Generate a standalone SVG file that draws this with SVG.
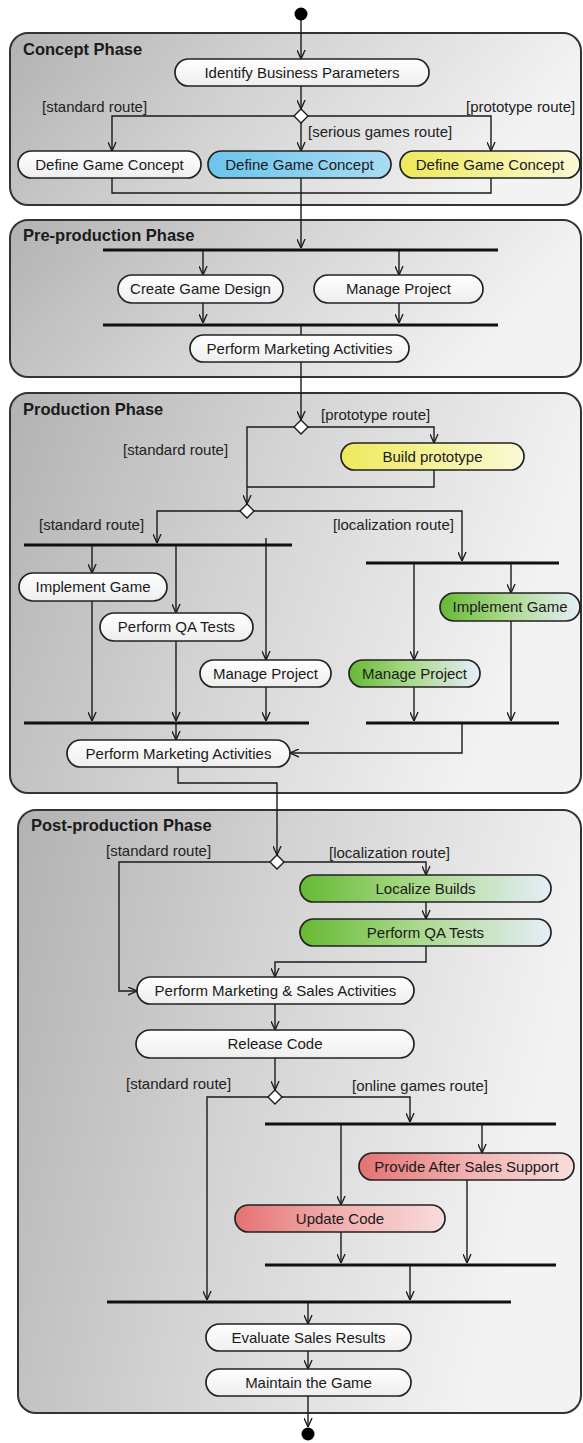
<svg xmlns="http://www.w3.org/2000/svg" width="583" height="1443" viewBox="0 0 583 1443">
  <defs>
    <linearGradient id="gPhase" x1="0" y1="0" x2="1" y2="0.25">
      <stop offset="0" stop-color="#b2b2b2"/>
      <stop offset="0.5" stop-color="#d5d5d5"/>
      <stop offset="1" stop-color="#f3f3f3"/>
    </linearGradient>
    <linearGradient id="gWhite" x1="0" y1="0" x2="0" y2="1">
      <stop offset="0" stop-color="#ffffff"/>
      <stop offset="1" stop-color="#eeeeee"/>
    </linearGradient>
    <linearGradient id="gBlue" x1="0" y1="0" x2="1" y2="0">
      <stop offset="0" stop-color="#6cc4ec"/>
      <stop offset="1" stop-color="#a8dcf3"/>
    </linearGradient>
    <linearGradient id="gYellow" x1="0" y1="0" x2="1" y2="0">
      <stop offset="0" stop-color="#eee95a"/>
      <stop offset="1" stop-color="#fbfad6"/>
    </linearGradient>
    <linearGradient id="gGreen" x1="0" y1="0" x2="1" y2="0">
      <stop offset="0" stop-color="#66b934"/>
      <stop offset="0.45" stop-color="#a8d888"/>
      <stop offset="1" stop-color="#e6eef8"/>
    </linearGradient>
    <linearGradient id="gRed" x1="0" y1="0" x2="1" y2="0">
      <stop offset="0" stop-color="#e47272"/>
      <stop offset="0.5" stop-color="#f2b0b0"/>
      <stop offset="1" stop-color="#f8dcdc"/>
    </linearGradient>
    <marker id="ah" viewBox="0 0 10 10" refX="10" refY="5" markerWidth="9" markerHeight="9" markerUnits="userSpaceOnUse" orient="auto">
      <path d="M0,0.5 L10,5 L0,9.5" fill="none" stroke="#1a1a1a" stroke-width="1.5"/>
    </marker>
    <style>
      .phase { fill: url(#gPhase); stroke: #333; stroke-width: 2; }
      .node { stroke: #222; stroke-width: 1.7; }
      .w { fill: url(#gWhite); }
      .b { fill: url(#gBlue); }
      .y { fill: url(#gYellow); }
      .g { fill: url(#gGreen); }
      .r { fill: url(#gRed); }
      text { font-family: "Liberation Sans", Arial, sans-serif; fill: #1a1a1a; }
      .lbl { font-size: 15px; text-anchor: middle; }
      .guard { font-size: 15px; fill: #222; }
      .title { font-size: 16.5px; font-weight: bold; }
      .c { fill: none; stroke: #1a1a1a; stroke-width: 1.4; }
      .a { marker-end: url(#ah); }
      .bar { stroke: #111; stroke-width: 3; }
      .dia { fill: #ffffff; stroke: #1a1a1a; stroke-width: 1.4; }
      .dot { fill: #000; }
    </style>
  </defs>

  <!-- phase partitions -->
  <g id="phases">
    <g id="phase-concept">
      <rect class="phase" x="10" y="33" width="571" height="172" rx="18"/>
      <text class="title" x="23" y="55">Concept Phase</text>
    </g>
    <g id="phase-preproduction">
      <rect class="phase" x="10" y="220" width="571" height="157" rx="18"/>
      <text class="title" x="23" y="241">Pre-production Phase</text>
    </g>
    <g id="phase-production">
      <rect class="phase" x="10" y="393" width="571" height="400" rx="18"/>
      <text class="title" x="23" y="415">Production Phase</text>
    </g>
    <g id="phase-postproduction">
      <rect class="phase" x="18" y="810" width="563" height="603" rx="18"/>
      <text class="title" x="31" y="831">Post-production Phase</text>
    </g>
  </g>

  <!-- connectors, bars, decisions and guards -->
  <g id="connectors">
    <!-- concept phase -->
    <line class="c a" x1="301" y1="20" x2="301" y2="59"/>
    <line class="c a" x1="301" y1="86" x2="301" y2="109"/>
    <polyline class="c a" points="294,116 112,116 112,151"/>
    <polyline class="c a" points="308,116 491,116 491,151"/>
    <line class="c a" x1="301" y1="123" x2="301" y2="151"/>
    <polyline class="c" points="112,178 112,193 491,193 491,178"/>
    <line class="c a" x1="301" y1="178" x2="301" y2="248"/>
    <polygon class="dia" points="301,109 308,116 301,123 294,116"/>
    <text class="guard" x="42" y="112">[standard route]</text>
    <text class="guard" x="466" y="112">[prototype route]</text>
    <text class="guard" x="308" y="137">[serious games route]</text>

    <!-- pre-production phase -->
    <line class="bar" x1="103" y1="250" x2="498" y2="250"/>
    <line class="c a" x1="203" y1="251" x2="203" y2="275"/>
    <line class="c a" x1="399" y1="251" x2="399" y2="275"/>
    <line class="c a" x1="203" y1="303" x2="203" y2="323"/>
    <line class="c a" x1="399" y1="303" x2="399" y2="323"/>
    <line class="bar" x1="103" y1="325" x2="498" y2="325"/>
    <line class="c" x1="301" y1="326" x2="301" y2="335"/>
    <line class="c a" x1="301" y1="362" x2="301" y2="420"/>

    <!-- production phase -->
    <polyline class="c" points="294,427 247,427 247,487"/>
    <polyline class="c a" points="308,427 434,427 434,443"/>
    <polyline class="c" points="434,470 434,487 247,487"/>
    <line class="c a" x1="247" y1="487" x2="247" y2="504"/>
    <polygon class="dia" points="301,420 308,427 301,434 294,427"/>
    <text class="guard" x="321" y="420">[prototype route]</text>
    <text class="guard" x="123" y="455">[standard route]</text>

    <polyline class="c a" points="240,511 157,511 157,543"/>
    <polyline class="c a" points="254,511 462,511 462,561"/>
    <polygon class="dia" points="247,504 254,511 247,518 240,511"/>
    <text class="guard" x="39" y="530">[standard route]</text>
    <text class="guard" x="333" y="530">[localization route]</text>

    <line class="bar" x1="24" y1="545" x2="292" y2="545"/>
    <line class="bar" x1="366" y1="563" x2="559" y2="563"/>
    <line class="c a" x1="92" y1="546" x2="92" y2="573"/>
    <line class="c a" x1="176" y1="546" x2="176" y2="613"/>
    <line class="c a" x1="266" y1="538" x2="266" y2="660"/>
    <line class="c a" x1="414" y1="564" x2="414" y2="660"/>
    <line class="c a" x1="511" y1="564" x2="511" y2="593"/>

    <line class="c a" x1="92" y1="601" x2="92" y2="721"/>
    <line class="c a" x1="176" y1="641" x2="176" y2="721"/>
    <line class="c a" x1="266" y1="687" x2="266" y2="721"/>
    <line class="c a" x1="414" y1="687" x2="414" y2="721"/>
    <line class="c a" x1="511" y1="621" x2="511" y2="721"/>
    <line class="bar" x1="24" y1="723" x2="309" y2="723"/>
    <line class="bar" x1="366" y1="723" x2="559" y2="723"/>
    <line class="c a" x1="176" y1="724" x2="176" y2="740"/>
    <polyline class="c a" points="462,724 462,753 290,753"/>
    <polyline class="c a" points="178,767 178,783 277,783 277,855"/>

    <!-- post-production phase -->
    <polyline class="c a" points="270,862 119,862 119,991 137,991"/>
    <polyline class="c a" points="284,862 426,862 426,875"/>
    <polygon class="dia" points="277,855 284,862 277,869 270,862"/>
    <text class="guard" x="106" y="856">[standard route]</text>
    <text class="guard" x="329" y="858">[localization route]</text>
    <line class="c a" x1="426" y1="902" x2="426" y2="919"/>
    <polyline class="c a" points="426,946 426,962 275,962 275,977"/>
    <line class="c a" x1="275" y1="1004" x2="275" y2="1030"/>
    <line class="c a" x1="275" y1="1058" x2="275" y2="1090"/>

    <polyline class="c a" points="268,1097 207,1097 207,1300"/>
    <polyline class="c a" points="282,1097 410,1097 410,1122"/>
    <polygon class="dia" points="275,1090 282,1097 275,1104 268,1097"/>
    <text class="guard" x="126" y="1089">[standard route]</text>
    <text class="guard" x="352" y="1091">[online games route]</text>

    <line class="bar" x1="265" y1="1124" x2="556" y2="1124"/>
    <line class="c a" x1="341" y1="1125" x2="341" y2="1205"/>
    <line class="c a" x1="482" y1="1125" x2="482" y2="1153"/>
    <line class="c a" x1="341" y1="1232" x2="341" y2="1263"/>
    <line class="c a" x1="467" y1="1180" x2="467" y2="1263"/>
    <line class="bar" x1="265" y1="1265" x2="556" y2="1265"/>
    <line class="c a" x1="410" y1="1266" x2="410" y2="1300"/>
    <line class="bar" x1="107" y1="1302" x2="511" y2="1302"/>
    <line class="c a" x1="308" y1="1303" x2="308" y2="1324"/>
    <line class="c a" x1="308" y1="1351" x2="308" y2="1369"/>
    <line class="c a" x1="308" y1="1396" x2="308" y2="1427"/>
  </g>

  <!-- start and end -->
  <g id="start"><circle class="dot" cx="301" cy="14" r="6.5"/></g>
  <g id="end"><circle class="dot" cx="308" cy="1434" r="6.5"/></g>

  <!-- activities -->
  <g id="identify-business-parameters">
    <rect class="node w" x="175" y="59" width="254" height="27" rx="13.5"/>
    <text class="lbl" x="302" y="77.5">Identify Business Parameters</text>
  </g>
  <g id="define-concept-standard">
    <rect class="node w" x="18" y="151" width="183" height="27" rx="13.5"/>
    <text class="lbl" x="109.5" y="169.5">Define Game Concept</text>
  </g>
  <g id="define-concept-serious">
    <rect class="node b" x="208" y="151" width="183" height="27" rx="13.5"/>
    <text class="lbl" x="299.5" y="169.5">Define Game Concept</text>
  </g>
  <g id="define-concept-prototype">
    <rect class="node y" x="400" y="151" width="180" height="27" rx="13.5"/>
    <text class="lbl" x="490" y="169.5">Define Game Concept</text>
  </g>
  <g id="create-game-design">
    <rect class="node w" x="118" y="275" width="165" height="28" rx="14"/>
    <text class="lbl" x="200.5" y="294">Create Game Design</text>
  </g>
  <g id="manage-project-pre">
    <rect class="node w" x="314" y="275" width="169" height="28" rx="14"/>
    <text class="lbl" x="398.5" y="294">Manage Project</text>
  </g>
  <g id="marketing-pre">
    <rect class="node w" x="190" y="335" width="219" height="27" rx="13.5"/>
    <text class="lbl" x="299.5" y="353.5">Perform Marketing Activities</text>
  </g>
  <g id="build-prototype">
    <rect class="node y" x="341" y="443" width="183" height="27" rx="13.5"/>
    <text class="lbl" x="432.5" y="461.5">Build prototype</text>
  </g>
  <g id="implement-game">
    <rect class="node w" x="19" y="573" width="148" height="28" rx="14"/>
    <text class="lbl" x="93" y="592">Implement Game</text>
  </g>
  <g id="qa-tests-prod">
    <rect class="node w" x="100" y="613" width="153" height="28" rx="14"/>
    <text class="lbl" x="176.5" y="632">Perform QA Tests</text>
  </g>
  <g id="manage-project-prod">
    <rect class="node w" x="200" y="660" width="131" height="27" rx="13.5"/>
    <text class="lbl" x="265.5" y="678.5">Manage Project</text>
  </g>
  <g id="manage-project-loc">
    <rect class="node g" x="349" y="660" width="131" height="27" rx="13.5"/>
    <text class="lbl" x="414.5" y="678.5">Manage Project</text>
  </g>
  <g id="implement-game-loc">
    <rect class="node g" x="440" y="593" width="140" height="28" rx="14"/>
    <text class="lbl" x="510" y="612">Implement Game</text>
  </g>
  <g id="marketing-prod">
    <rect class="node w" x="67" y="740" width="223" height="27" rx="13.5"/>
    <text class="lbl" x="178.5" y="758.5">Perform Marketing Activities</text>
  </g>
  <g id="localize-builds">
    <rect class="node g" x="300" y="875" width="251" height="27" rx="13.5"/>
    <text class="lbl" x="425.5" y="893.5">Localize Builds</text>
  </g>
  <g id="qa-tests-post">
    <rect class="node g" x="300" y="919" width="251" height="27" rx="13.5"/>
    <text class="lbl" x="425.5" y="937.5">Perform QA Tests</text>
  </g>
  <g id="marketing-sales">
    <rect class="node w" x="137" y="977" width="277" height="27" rx="13.5"/>
    <text class="lbl" x="275.5" y="995.5">Perform Marketing &amp; Sales Activities</text>
  </g>
  <g id="release-code">
    <rect class="node w" x="136" y="1030" width="278" height="28" rx="14"/>
    <text class="lbl" x="275" y="1049">Release Code</text>
  </g>
  <g id="after-sales-support">
    <rect class="node r" x="359" y="1153" width="215" height="27" rx="13.5"/>
    <text class="lbl" x="466.5" y="1171.5">Provide After Sales Support</text>
  </g>
  <g id="update-code">
    <rect class="node r" x="235" y="1205" width="210" height="27" rx="13.5"/>
    <text class="lbl" x="340" y="1223.5">Update Code</text>
  </g>
  <g id="evaluate-sales">
    <rect class="node w" x="206" y="1324" width="205" height="27" rx="13.5"/>
    <text class="lbl" x="308.5" y="1342.5">Evaluate Sales Results</text>
  </g>
  <g id="maintain-game">
    <rect class="node w" x="206" y="1369" width="205" height="27" rx="13.5"/>
    <text class="lbl" x="308.5" y="1387.5">Maintain the Game</text>
  </g>
</svg>
